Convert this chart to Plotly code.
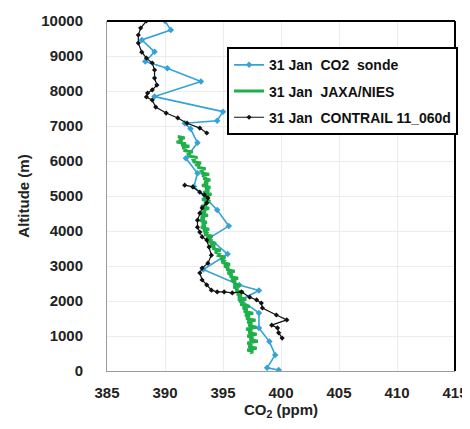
import plotly.graph_objects as go

# CO2 sonde (31 Jan)
sonde_alt = [10000, 9740, 9460, 9120, 8840, 8650, 8270, 7840, 7410, 7150, 7080, 6920, 6520, 6080,
             5650, 5270, 4940, 4600, 4140, 3800, 3340, 2900, 2460, 2300, 2030, 1660, 1230, 840,
             460, 90, 30]
sonde_co2 = [390.0, 390.5, 388.0, 389.1, 388.3, 390.2, 393.1, 389.1, 395.0, 394.5, 391.7, 392.2,
             392.8, 391.8, 392.8, 392.5, 393.5, 394.5, 395.5, 393.8, 395.4, 393.3, 396.4, 398.1,
             396.5, 398.1, 398.1, 399.0, 399.5, 398.8, 399.8]

# JAXA/NIES (31 Jan)
jaxa_alt = [6700, 6660, 6620, 6580, 6540, 6500, 6460, 6420, 6380, 6340, 6300, 6260, 6220, 6180,
            6140, 6100, 6060, 6020, 5980, 5940, 5900, 5860, 5820, 5780, 5740, 5700, 5660, 5620,
            5580, 5540, 5500, 5460, 5400, 5350, 5300, 5250, 5200, 5150, 5100, 5050, 5000, 4950,
            4900, 4850, 4800, 4750, 4700, 4650, 4600, 4550, 4500, 4450, 4400, 4350, 4300, 4250,
            4200, 4150, 4100, 4050, 4000, 3950, 3900, 3850, 3800, 3750, 3700, 3650, 3600, 3550,
            3500, 3450, 3400, 3350, 3300, 3250, 3200, 3150, 3100, 3050, 3000, 2950, 2900, 2850,
            2800, 2750, 2700, 2650, 2600, 2550, 2500, 2450, 2400, 2350, 2300, 2250, 2200, 2150,
            2100, 2050, 2000, 1950, 1900, 1850, 1800, 1750, 1700, 1650, 1600, 1550, 1500, 1450,
            1400, 1350, 1300, 1250, 1200, 1150, 1100, 1050, 1000, 950, 900, 850, 800, 750, 700,
            650, 600, 550, 520]
jaxa_co2 = [391.1, 391.7, 391.2, 391.5, 391.0, 391.8, 391.4, 392.1, 391.5, 391.9, 391.6, 392.4,
            391.9, 392.2, 392.0, 392.8, 392.3, 392.6, 392.4, 393.1, 392.6, 393.0, 392.8, 393.5,
            393.0, 393.3, 393.1, 393.8, 393.2, 393.6, 393.3, 393.9, 393.4, 393.7, 393.2, 393.9,
            393.5, 393.8, 393.3, 394.0, 393.5, 393.7, 393.2, 393.9, 393.4, 393.6, 393.1, 393.8,
            393.3, 393.5, 393.0, 393.7, 393.1, 393.4, 393.0, 393.6, 393.2, 393.5, 393.1, 393.8,
            393.3, 393.6, 393.4, 394.1, 393.6, 393.9, 393.7, 394.4, 393.9, 394.3, 394.1, 394.8,
            394.3, 394.7, 394.6, 395.2, 394.8, 395.1, 394.9, 395.6, 395.1, 395.5, 395.3, 396.0,
            395.4, 395.8, 395.6, 396.3, 395.7, 396.1, 395.9, 396.5, 395.9, 396.3, 396.1, 396.8,
            396.2, 396.6, 396.3, 397.0, 396.4, 396.8, 396.5, 397.3, 396.7, 397.1, 396.8, 397.6,
            396.9, 397.3, 397.0, 397.8, 397.1, 397.5, 397.2, 397.9, 397.0, 397.5, 397.2, 397.9,
            397.1, 397.6, 397.3, 398.0, 397.1, 397.5, 397.2, 397.9, 397.1, 397.6, 397.3]

# CONTRAIL 11_060d (31 Jan)
contrail_alt = [10000, 9800, 9600, 9370, 9110, 8940, 8800, 8600, 8370, 8170, 8030, 7940, 7830,
                7740, 7540, 7370, 7230, 7080, 6940, 6800, None,
                5310, 5260, 5110, 5030, 4940, 4800, 4660, 4510, 4310, 4110, 3970, 3830, 3740,
                3540, 3310, 3080, 2940, 2800, 2600, 2460, 2310, 2260, 2260, 2230, 2260, 2110,
                2030, 1940, 1800, 1600, 1460, 1310, 1230, 1090, 940]
contrail_co2 = [388.4, 387.9, 387.7, 387.7, 388.0, 388.4, 388.9, 389.1, 389.1, 389.3, 388.9,
                388.5, 388.4, 388.9, 389.2, 390.1, 391.1, 391.9, 393.0, 393.6, None,
                391.7, 392.4, 393.0, 393.4, 393.7, 393.6, 393.2, 393.0, 392.8, 392.8, 393.0,
                393.2, 393.6, 393.8, 394.0, 393.7, 393.2, 393.0, 393.2, 393.6, 394.0, 394.5,
                395.1, 395.8, 396.6, 397.3, 397.9, 398.3, 398.4, 399.6, 400.5, 399.2, 399.7,
                399.8, 400.1]

x_ticks = [385, 390, 395, 400, 405, 410, 415]
y_ticks = [0, 1000, 2000, 3000, 4000, 5000, 6000, 7000, 8000, 9000, 10000]

NB = "\u00a0"
fig = go.Figure()
fig.add_trace(go.Scatter(x=sonde_co2, y=sonde_alt, mode="lines+markers",
                         name=f"31 Jan{NB}{NB}CO2{NB}{NB}sonde", legendgroup="a",
                         line=dict(color="#35A3D8", width=1.6),
                         marker=dict(symbol="diamond", size=5, color="#35A3D8")))
fig.add_trace(go.Scatter(x=jaxa_co2, y=jaxa_alt, mode="lines",
                         name=f"31 Jan{NB}{NB}JAXA/NIES", legendgroup="b",
                         line=dict(color="#1FAF4B", width=3)))
fig.add_trace(go.Scatter(x=contrail_co2, y=contrail_alt, mode="lines+markers",
                         name=f"31 Jan{NB}{NB}CONTRAIL 11_060d", legendgroup="c",
                         line=dict(color="#111111", width=1.2),
                         marker=dict(symbol="diamond", size=4, color="#111111"),
                         connectgaps=False))

FAM = "Liberation Sans, Arial"
tickfont = dict(family=FAM, size=15, color="#222222", weight="bold")
fig.update_layout(
    width=462, height=421,
    margin=dict(l=99, r=13, t=13, b=58),
    paper_bgcolor="white", plot_bgcolor="white",
    showlegend=True,
    legend=dict(x=0.345, y=0.925, xanchor="left", yanchor="top",
                bgcolor="white", bordercolor="black", borderwidth=2,
                font=dict(family=FAM, size=14, color="#111111", weight="bold"),
                itemwidth=30, tracegroupgap=5),
    xaxis=dict(range=[385, 415], tickvals=x_ticks, ticktext=[str(v) for v in x_ticks],
               showgrid=True, gridcolor="#ececec", gridwidth=1, zeroline=False,
               showline=True, linecolor="#9a9a9a", linewidth=1, automargin=False,
               ticks="", tickfont=tickfont, ticklabelstandoff=8,
               title=dict(text="CO<sub>2</sub> (ppm)", standoff=4,
                          font=dict(family=FAM, size=15, color="#222222", weight="bold"))),
    yaxis=dict(range=[0, 10000], tickvals=y_ticks, ticktext=[str(v) for v in y_ticks],
               showgrid=True, gridcolor="#ececec", gridwidth=1, zeroline=False,
               showline=True, linecolor="#9a9a9a", linewidth=1, automargin=False,
               ticks="", tickfont=tickfont, ticklabelstandoff=20,
               title=dict(text="Altitude (m)", standoff=8,
                          font=dict(family=FAM, size=15, color="#222222", weight="bold"))),
    shapes=[
        dict(type="line", xref="paper", yref="paper", x0=0, x1=1, y0=1, y1=1,
             line=dict(color="black", width=2)),
        dict(type="line", xref="paper", yref="paper", x0=1, x1=1, y0=0, y1=1,
             line=dict(color="black", width=2)),
    ],
)

fig.write_html("out.html")
